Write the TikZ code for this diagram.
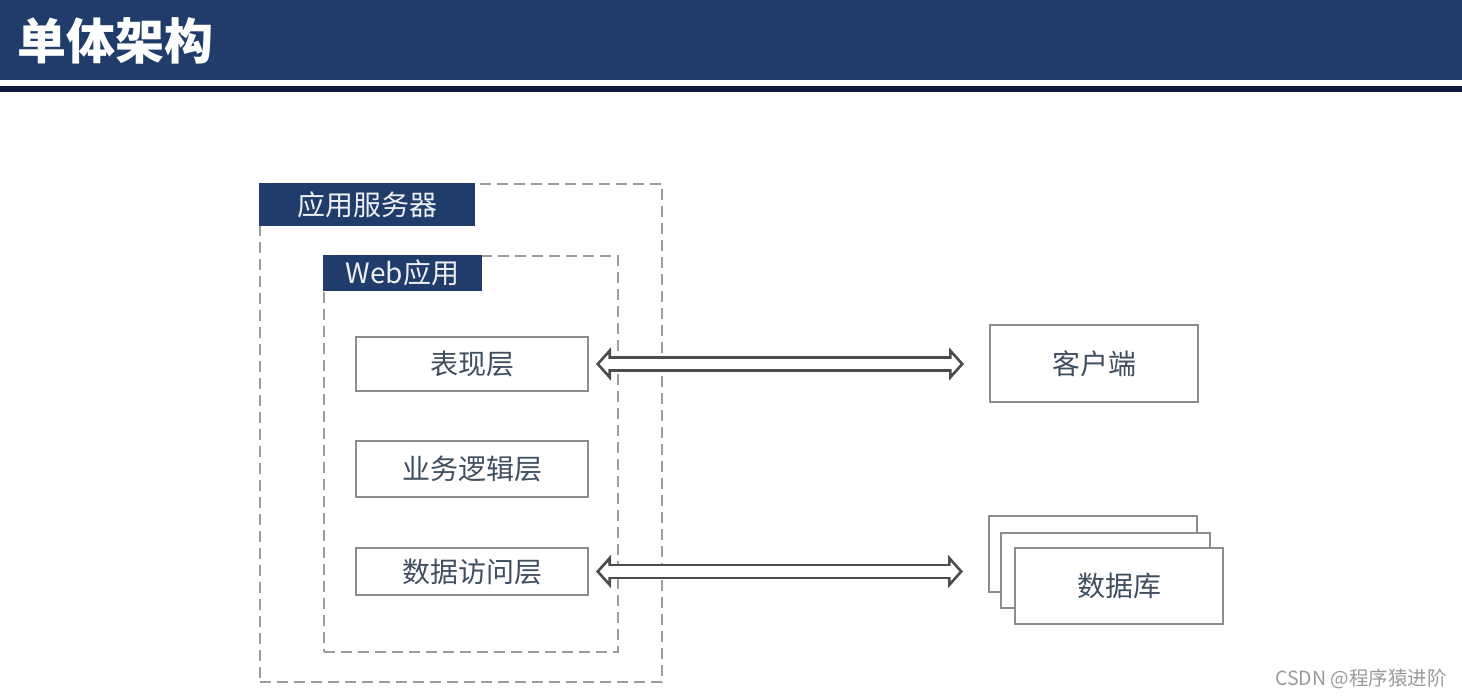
\documentclass[tikz,border=0pt]{standalone}
\usepackage{fontspec}
\setmainfont{Noto Sans CJK SC}
\usetikzlibrary{arrows.meta}
\definecolor{headblue}{HTML}{1F3C6B}
\definecolor{headdark}{HTML}{0E1A3C}
\definecolor{boxgray}{HTML}{8C8C8C}
\definecolor{dashgray}{HTML}{9C9C9C}
\definecolor{textgray}{HTML}{3F4F60}
\definecolor{markgray}{HTML}{9A9A9A}
\tikzset{
    plainbox/.style={draw=boxgray, line width=1.8pt, fill=white, anchor=north west, inner sep=0pt, outer sep=0pt, text=textgray,
        font=\fontsize{28}{30}\selectfont},
    dashbox/.style={draw=dashgray, line width=2pt, dash pattern=on 11pt off 6pt, anchor=north west, inner sep=0pt, outer sep=0pt},
    tagbox/.style={fill=headblue, anchor=north west, inner sep=0pt, outer sep=0pt, text=white!92!headblue,
        font=\fontsize{28}{30}\selectfont},
    linkarrow/.style={{Triangle[open, fill=white, length=15pt, width=33pt, line width=2.6pt]}-{Triangle[open, fill=white, length=15pt, width=33pt, line width=2.6pt]},
        draw=black!70, line width=2.6pt, double=white, double distance=10.5pt, shorten <=8pt, shorten >=26pt},
    linkcore/.style={draw=white, line width=10.5pt, shorten <=20pt, shorten >=38pt},
}

\begin{document}
\begin{tikzpicture}[x=1pt, y=-1pt]
    \useasboundingbox (0, 0) rectangle (1462, 698);

    % header band
    \fill [headblue] (0, 0) rectangle (1462, 80);
    \fill [headdark] (0, 86) rectangle (1462, 92);
    \node [anchor=west, inner sep=0pt, text=white, font=\fontsize{49}{52}\selectfont\bfseries] (title) at (17, 41) {单体架构};

    % dashed containers
    \node [dashbox, minimum width=402pt, minimum height=498pt] (server) at (260, 184) {};
    \node [tagbox, minimum width=216pt, minimum height=43pt] (servertag) at (259, 183) {应用服务器};
    \node [dashbox, minimum width=294pt, minimum height=396pt] (webapp) at (324, 256) {};
    \node [tagbox, minimum width=159pt, minimum height=36pt] (webtag) at (323, 255) {Web应用};

    % layers
    \node [plainbox, minimum width=232pt, minimum height=54pt] (present) at (356, 337) {表现层};
    \node [plainbox, minimum width=232pt, minimum height=56pt] (logic) at (356, 441) {业务逻辑层};
    \node [plainbox, minimum width=232pt, minimum height=47pt] (access) at (356, 548) {数据访问层};

    \node [plainbox, minimum width=208pt, minimum height=77pt] (client) at (990, 325) {客户端};

    % stacked database
    \node [plainbox, minimum width=208pt, minimum height=76pt] (dbback) at (989, 516) {};
    \node [plainbox, minimum width=209pt, minimum height=75pt] (dbmid) at (1001, 533) {};
    \node [plainbox, minimum width=208pt, minimum height=76pt] (dbfront) at (1015, 548) {数据库};

    \draw [linkarrow] (present.east) -- (present.east -| client.west);
    \draw [linkcore] (present.east) -- (present.east -| client.west);
    \draw [linkarrow] (access.east) -- (access.east -| dbback.west);
    \draw [linkcore] (access.east) -- (access.east -| dbback.west);

    \node [anchor=east, inner sep=0pt, text=markgray, font=\fontsize{19.5}{22}\selectfont] (mark) at (1447, 679) {CSDN @程序猿进阶};
\end{tikzpicture}
\end{document}
